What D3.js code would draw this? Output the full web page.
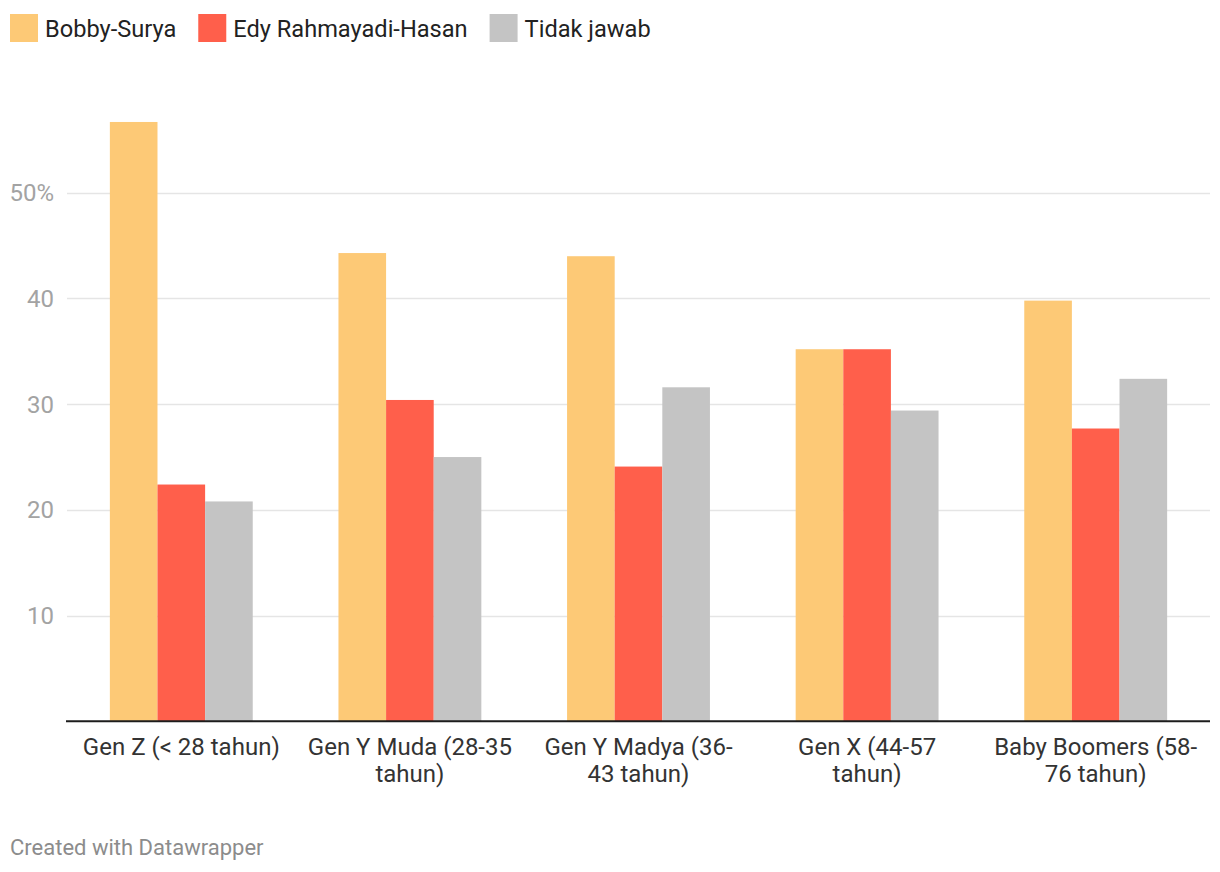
<!DOCTYPE html>
<html>
<head>
<meta charset="utf-8">
<script src="https://cdn.jsdelivr.net/npm/d3@7"></script>
<style>
  html, body { margin: 0; padding: 0; background: #fff; }
  svg { display: block; font-family: Roboto, "Noto Sans", sans-serif; }
</style>
</head>
<body>
<svg id="chart" width="1220" height="872"></svg>
<script>
const categories = ["Gen Z (< 28 tahun)", "Gen Y Muda (28-35 tahun)", "Gen Y Madya (36-43 tahun)", "Gen X (44-57 tahun)", "Baby Boomers (58-76 tahun)"];
const categoryLines = [["Gen Z (< 28 tahun)"], ["Gen Y Muda (28-35", "tahun)"], ["Gen Y Madya (36-", "43 tahun)"], ["Gen X (44-57", "tahun)"], ["Baby Boomers (58-", "76 tahun)"]];
const seriesNames = ["Bobby-Surya", "Edy Rahmayadi-Hasan", "Tidak jawab"];
const bobbySurya = [56.7, 44.3, 44.0, 35.2, 39.8];
const edyHasan = [22.4, 30.4, 24.1, 35.2, 27.7];
const tidakJawab = [20.8, 25.0, 31.6, 29.4, 32.4];
const seriesColors = ["#fdc976", "#ff5f4b", "#c4c4c4"];
const yTicks = [10, 20, 30, 40, 50];
const footerText = "Created with Datawrapper";

const seriesValues = [bobbySurya, edyHasan, tidakJawab];
const svg = d3.select("#chart");

const mLeft = 67, mRight = 1210, mBottom = 721.3;
const y = d3.scaleLinear().domain([0, 50]).range([mBottom, mBottom - 50 * 10.57]);
const x0 = d3.scaleBand().domain(categories).range([mLeft, mRight]).paddingInner(0.375).paddingOuter(0.1875);
const x1 = d3.scaleBand().domain(seriesNames).range([0, x0.bandwidth()]);

// gridlines
svg.append("g").selectAll("line").data(yTicks).join("line")
  .attr("x1", mLeft).attr("x2", mRight)
  .attr("y1", d => Math.round(y(d)) + 0.5).attr("y2", d => Math.round(y(d)) + 0.5)
  .attr("stroke", "#e5e5e5").attr("stroke-width", 1.5);

// y labels
svg.append("g").selectAll("text").data(yTicks).join("text")
  .attr("x", 54).attr("y", d => y(d)).attr("dy", "0.35em")
  .attr("text-anchor", "end").attr("fill", "#a3a3a3").attr("font-size", 24)
  .text(d => d === 50 ? d + "%" : d);

// bars
const groups = svg.append("g").selectAll("g").data(categories).join("g")
  .attr("transform", d => `translate(${x0(d)},0)`);
groups.selectAll("rect").data((d, i) => seriesNames.map((s, j) => ({ s, v: seriesValues[j][i], j })))
  .join("rect")
  .attr("x", d => x1(d.s)).attr("width", x1.bandwidth())
  .attr("y", d => y(d.v)).attr("height", d => y(0) - y(d.v))
  .attr("fill", d => seriesColors[d.j]);

// baseline
svg.append("line").attr("x1", mLeft - 1).attr("x2", mRight).attr("y1", mBottom).attr("y2", mBottom)
  .attr("stroke", "#1d1d1d").attr("stroke-width", 2);

// category labels
const labels = svg.append("g").selectAll("text").data(categories).join("text")
  .attr("text-anchor", "middle").attr("fill", "#333").attr("font-size", 24)
  .attr("transform", d => `translate(${x0(d) + x0.bandwidth() / 2},754.5)`);
labels.each(function(d, i) {
  const t = d3.select(this);
  categoryLines[i].forEach((ln, k) => {
    t.append("tspan").attr("x", 0).attr("y", k * 27).text(ln);
  });
});

// legend
const legend = svg.append("g");
let lx = 10;
seriesNames.forEach((s, j) => {
  legend.append("rect").attr("x", lx).attr("y", 14).attr("width", 28).attr("height", 28).attr("fill", seriesColors[j]);
  const t = legend.append("text").attr("x", lx + 35).attr("y", 36.5).attr("font-size", 23.6).attr("fill", "#222").text(s);
  lx += 35 + t.node().getComputedTextLength() + 22;
});

// footer
svg.append("text").attr("x", 10).attr("y", 855).attr("font-size", 22).attr("fill", "#8c8c8c").text(footerText);
</script>
</body>
</html>
